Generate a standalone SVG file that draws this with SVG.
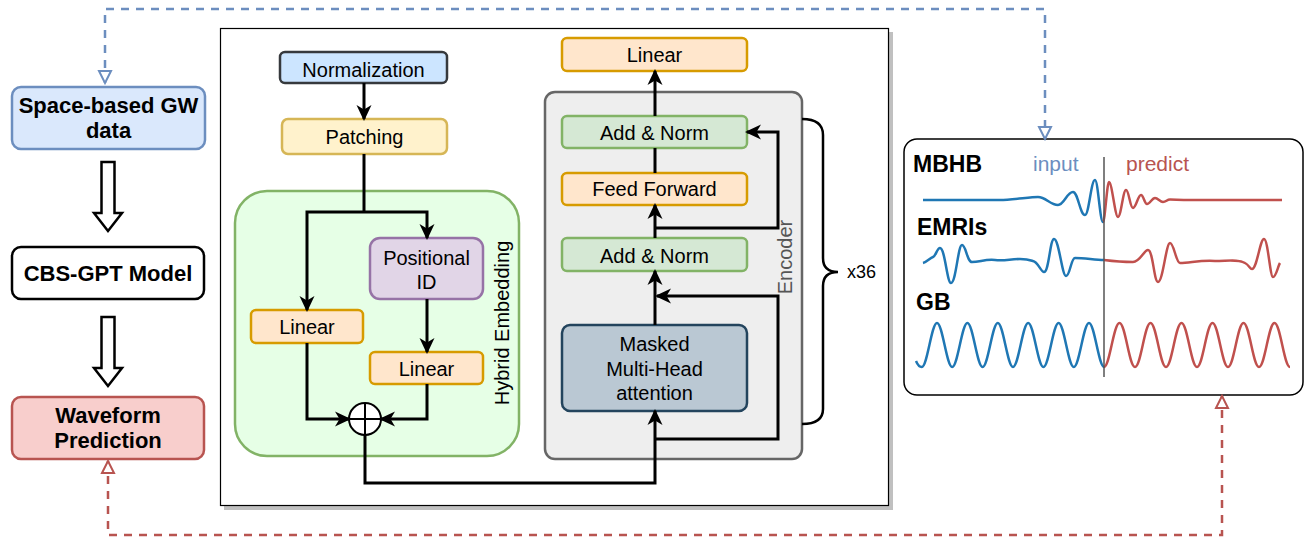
<svg xmlns="http://www.w3.org/2000/svg" width="1305" height="537" viewBox="0 0 1305 537">
<style>
text{font-family:"Liberation Sans",Arial,sans-serif;fill:#000}
.t20{font-size:20px;text-anchor:middle}
.b22{font-size:22px;font-weight:bold;text-anchor:middle}
.b23{font-size:23px;font-weight:bold}
.con{fill:none;stroke:#000;stroke-width:3}
.wb{fill:none;stroke:#1f77b4;stroke-width:2.5;stroke-linejoin:round}
.wr{fill:none;stroke:#c0504d;stroke-width:2.5;stroke-linejoin:round}
</style>
<defs>
<marker id="arr" viewBox="0 0 16 16" refX="14" refY="8" markerWidth="16" markerHeight="16" markerUnits="userSpaceOnUse" orient="auto-start-reverse">
<path d="M0,0.5 L16,8 L0,15.5 L4.5,8 Z" fill="#000"/>
</marker>
<marker id="openBlue" viewBox="0 0 16 16" refX="14" refY="8" markerWidth="16" markerHeight="16" markerUnits="userSpaceOnUse" orient="auto-start-reverse">
<path d="M2,2 L14,8 L2,14 Z" fill="#fff" stroke="#6c8ebf" stroke-width="2"/>
</marker>
<marker id="openRed" viewBox="0 0 16 16" refX="14" refY="8" markerWidth="16" markerHeight="16" markerUnits="userSpaceOnUse" orient="auto-start-reverse">
<path d="M2,2 L14,8 L2,14 Z" fill="#fff" stroke="#b85450" stroke-width="2"/>
</marker>
</defs>
<rect width="1305" height="537" fill="#fff"/>

<!-- main container -->
<g id="main-box">
<rect x="224" y="32" width="669" height="478" fill="#c0c0c0"/>
<rect x="220.5" y="28.5" width="668" height="477" fill="#fff" stroke="#000" stroke-width="1.2"/>
</g>

<g id="hybrid-embedding">
<rect x="235" y="191" width="284" height="265" rx="32" fill="#e6ffe6" stroke="#82b366" stroke-width="2.5"/>
<text x="509" y="323" class="t20" transform="rotate(-90 509 323)">Hybrid Embedding</text>
</g>

<g id="encoder">
<rect x="545" y="92" width="257" height="367" rx="10" fill="#eeeeee" stroke="#666666" stroke-width="2.5"/>
<text x="792" y="257" class="t20" style="fill:#555" transform="rotate(-90 792 257)">Encoder</text>
</g>

<!-- left column -->
<g id="space-data">
<rect x="12" y="87" width="193" height="62" rx="9" fill="#dae8fc" stroke="#6c8ebf" stroke-width="2.5"/>
<text x="108.5" y="113" class="b22">Space-based GW</text>
<text x="108.5" y="138" class="b22">data</text>
</g>
<g id="cbs-gpt">
<rect x="12" y="247" width="192" height="52" rx="9" fill="#fff" stroke="#000" stroke-width="2.5"/>
<text x="108" y="281" class="b22">CBS-GPT Model</text>
</g>
<g id="waveform-prediction">
<rect x="12" y="397" width="192" height="62" rx="9" fill="#f8cecc" stroke="#b85450" stroke-width="2.5"/>
<text x="108" y="423" class="b22">Waveform</text>
<text x="108" y="448" class="b22">Prediction</text>
</g>

<!-- inner nodes -->
<g id="normalization">
<rect x="280" y="52" width="167" height="31" rx="5" fill="#cce5ff" stroke="#36393d" stroke-width="2.5"/>
<text x="363.5" y="77" class="t20">Normalization</text>
</g>
<g id="patching">
<rect x="282" y="119" width="165" height="35" rx="6" fill="#fff2cc" stroke="#d6b656" stroke-width="2.5"/>
<text x="364.5" y="144" class="t20">Patching</text>
</g>
<g id="positional-id">
<rect x="370" y="238" width="113" height="61" rx="10" fill="#e1d5e7" stroke="#9673a6" stroke-width="2.5"/>
<text x="426.5" y="265" class="t20">Positional</text>
<text x="426.5" y="289" class="t20">ID</text>
</g>
<g id="linear-left">
<rect x="251" y="310" width="112" height="33" rx="5" fill="#ffe6cc" stroke="#d79b00" stroke-width="2.5"/>
<text x="307" y="334" class="t20">Linear</text>
</g>
<g id="linear-right">
<rect x="370" y="352" width="113" height="32" rx="5" fill="#ffe6cc" stroke="#d79b00" stroke-width="2.5"/>
<text x="426.5" y="376" class="t20">Linear</text>
</g>
<g id="sum">
<circle cx="365" cy="419" r="16" fill="#fff" stroke="#000" stroke-width="2"/>
<path d="M349,419 H381 M365,403 V435" stroke="#000" stroke-width="2"/>
</g>
<g id="linear-top">
<rect x="562" y="38" width="185" height="33" rx="5" fill="#ffe6cc" stroke="#d79b00" stroke-width="2.5"/>
<text x="654.5" y="62" class="t20">Linear</text>
</g>
<g id="add-norm-top">
<rect x="562" y="116" width="185" height="32" rx="5" fill="#d5e8d4" stroke="#82b366" stroke-width="2.5"/>
<text x="654.5" y="140" class="t20">Add &amp; Norm</text>
</g>
<g id="feed-forward">
<rect x="562" y="173" width="185" height="32" rx="5" fill="#ffe6cc" stroke="#d79b00" stroke-width="2.5"/>
<text x="654.5" y="196" class="t20">Feed Forward</text>
</g>
<g id="add-norm-bottom">
<rect x="562" y="238" width="185" height="33" rx="5" fill="#d5e8d4" stroke="#82b366" stroke-width="2.5"/>
<text x="654.5" y="263" class="t20">Add &amp; Norm</text>
</g>
<g id="masked-mha">
<rect x="562" y="325" width="185" height="86" rx="8" fill="#bac8d3" stroke="#23445d" stroke-width="2.5"/>
<text x="654.5" y="351" class="t20">Masked</text>
<text x="654.5" y="376" class="t20">Multi-Head</text>
<text x="654.5" y="400" class="t20">attention</text>
</g>
<g id="repeat-brace">
<path d="M802,119 Q823,119 823,135 L823,258 Q823,272 838,272 Q823,272 823,286 L823,409 Q823,424 802,424" fill="none" stroke="#000" stroke-width="2.5"/>
<text x="847" y="278" font-size="18">x36</text>
</g>

<!-- right panel -->
<g id="waveform-panel">
<rect x="904" y="139" width="399" height="256" rx="13" fill="#fff" stroke="#000" stroke-width="1.5"/>
<text x="913" y="172" class="b23">MBHB</text>
<text x="917" y="235" class="b23">EMRIs</text>
<text x="916" y="310" class="b23">GB</text>
<text x="1033" y="171" font-size="21" style="fill:#6c8ebf">input</text>
<text x="1126" y="171" font-size="21" style="fill:#b85450">predict</text>
<path class="wb" d="M923,200 L1000,200 C1012,200 1030,197 1038,197 C1046,197 1050,205 1058,205 C1064,205 1067,192 1073,192 C1078,192 1080,215 1085,215 C1089,215 1091,180 1095,180 C1098,180 1100,222 1103,222"/>
<path class="wr" d="M1103,222 C1105,222 1107,182 1109,182 C1112,182 1115,217 1118,217 C1121,217 1123,190 1126,190 C1129,190 1130,208 1133,208 C1136,208 1138,195 1141,195 C1143.5,195 1144.5,204 1147,204 C1150,204 1152,198 1155,198 C1158,198 1160,202 1163,202 C1166,202 1167,199.5 1170,199.5 C1175,199.5 1180,200 1190,200 L1282,200"/>
<path class="wb" d="M923,263 C927,262 930,258 933,257 C936,256 937,248 940,248 C945,248 947,283 951,283 C956,283 958,245 962,245 C966,245 967,262 972,262 C980,262 985,259 995,260 C1005,261 1010,259 1020,259 C1028,259 1030,260 1033,261 C1038,262 1041,272 1044,272 C1049,272 1050,239 1054,239 C1059,239 1062,276 1066,276 C1070,276 1071,258 1075,258 C1085,258 1095,260 1104,260"/>
<path class="wr" d="M1104,260 C1112,261 1120,262 1133,262 C1140,262 1144,250 1148,250 C1153,250 1154,282 1158,282 C1163,282 1166,243 1170,243 C1174,243 1176,263 1180,263 C1190,263 1200,260 1215,261 C1228,261 1238,259 1245,263 C1249,265 1250,269 1252,269 C1257,269 1260,239 1264,239 C1268,239 1270,277 1273,277 C1276,277 1278,266 1280,263"/>
<path class="wb" d="M916,361 Q918.5,367 921.8,367 C927.3,367 931.5,323 937,323 S946.7,367 952.2,367 S961.9,323 967.4,323 S977.1,367 982.6,367 S992.3,323 997.8,323 S1007.5,367 1013,367 S1022.7,323 1028.2,323 S1037.9,367 1043.4,367 S1053.1,323 1058.6,323 S1068.3,367 1073.8,367 S1083.5,323 1089,323 S1098.7,367 1104.2,367"/>
<path class="wr" d="M1104,367 C1109.6,367 1113.6,323 1119.5,323 S1129.1,367 1135,367 S1144.6,323 1150.5,323 S1160.1,367 1166,367 S1175.6,323 1181.5,323 S1191.1,367 1197,367 S1206.6,323 1212.5,323 S1222.1,367 1228,367 S1237.6,323 1243.5,323 S1253.1,367 1259,367 S1268.6,323 1274.5,323 S1284.1,367 1290,367"/>
<line x1="1104" y1="157" x2="1104" y2="377" stroke="#555" stroke-width="1.5"/>
</g>

<!-- connectors -->
<g id="connectors">
<polygon points="101.5,162 114.5,162 114.5,213 122,213 108,231 94,213 101.5,213" fill="#fff" stroke="#000" stroke-width="2.5"/>
<polygon points="101.5,317 114.5,317 114.5,368 122,368 108,386 94,368 101.5,368" fill="#fff" stroke="#000" stroke-width="2.5"/>
<path d="M105,83 L105,9 L1045,9 L1045,139" fill="none" stroke="#6c8ebf" stroke-width="2.5" stroke-dasharray="8 7" marker-start="url(#openBlue)" marker-end="url(#openBlue)"/>
<path d="M108,461 L108,535 L1222,535 L1222,396" fill="none" stroke="#b85450" stroke-width="2.5" stroke-dasharray="8 7" marker-start="url(#openRed)" marker-end="url(#openRed)"/>
<path class="con" d="M364,83 L364,119" marker-end="url(#arr)"/>
<path class="con" d="M364,154 L364,212"/>
<path class="con" d="M364,212 L307,212 L307,310" marker-end="url(#arr)"/>
<path class="con" d="M364,212 L427,212 L427,238" marker-end="url(#arr)"/>
<path class="con" d="M427,299 L427,352" marker-end="url(#arr)"/>
<path class="con" d="M307,343 L307,419 L349,419" marker-end="url(#arr)"/>
<path class="con" d="M427,384 L427,419 L381,419" marker-end="url(#arr)"/>
<path class="con" d="M365,435 L365,483 L655,483 L655,411" marker-end="url(#arr)"/>
<path class="con" d="M655,325 L655,271" marker-end="url(#arr)"/>
<path class="con" d="M655,439 L778,439 L778,296 L657,296" marker-end="url(#arr)"/>
<path class="con" d="M655,238 L655,205" marker-end="url(#arr)"/>
<path class="con" d="M655,228 L778,228 L778,132 L747,132" marker-end="url(#arr)"/>
<path class="con" d="M655,173 L655,148"/>
<path class="con" d="M655,116 L655,71" marker-end="url(#arr)"/>
</g>
</svg>
